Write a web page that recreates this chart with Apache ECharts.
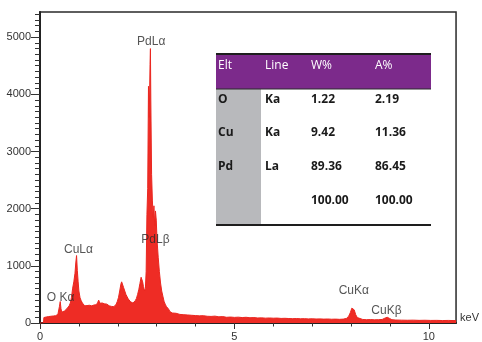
<!DOCTYPE html>
<html>
<head>
<meta charset="utf-8">
<script src="https://cdn.jsdelivr.net/npm/echarts@6/dist/echarts.min.js"></script>
<style>
html,body{margin:0;padding:0;background:#fff;}
#chart{width:482px;height:342px;}
</style>
</head>
<body>
<div id="chart"></div>
<script>
// Spectrum energies (keV) and counts
const energyKeV = [
  0.00,0.09,0.10,0.13,0.16,0.19,0.22,0.25,0.28,0.31,0.34,0.37,0.40,0.43,0.46,0.48,0.50,0.52,0.54,0.56,
  0.58,0.60,0.63,0.66,0.69,0.72,0.75,0.78,0.81,0.84,0.87,0.90,0.92,0.94,0.96,0.98,1.00,1.03,1.06,1.09,
  1.12,1.15,1.18,1.21,1.24,1.27,1.30,1.33,1.36,1.39,1.42,1.45,1.48,1.51,1.54,1.57,1.60,1.63,1.66,1.69,
  1.72,1.75,1.78,1.81,1.84,1.87,1.90,1.93,1.96,1.99,2.02,2.05,2.08,2.10,2.12,2.15,2.18,2.21,2.24,2.27,
  2.30,2.33,2.36,2.39,2.42,2.45,2.48,2.51,2.54,2.57,2.60,2.62,2.64,2.66,2.69,2.71,2.73,2.75,2.77,2.79,
  2.81,2.83,2.84,2.85,2.87,2.89,2.91,2.93,2.95,2.97,2.99,3.01,3.04,3.07,3.10,3.13,3.16,3.19,3.22,3.25,
  3.28,3.31,3.34,3.37,3.40,3.45,3.50,3.55,3.60,3.65,3.70,3.75,3.80,3.85,3.90,3.95,4.00,4.10,4.20,4.30,
  4.40,4.50,4.60,4.70,4.80,4.90,5.00,5.10,5.20,5.30,5.40,5.50,5.60,5.70,5.80,5.90,6.00,6.10,6.20,6.30,
  6.40,6.50,6.60,6.70,6.80,6.90,7.00,7.10,7.20,7.30,7.40,7.50,7.60,7.70,7.80,7.88,7.94,7.98,8.02,8.05,
  8.08,8.12,8.16,8.20,8.30,8.40,8.50,8.60,8.70,8.80,8.87,8.93,8.99,9.05,9.15,9.30,9.45,9.60,9.75,9.90,
  10.05,10.20,10.35,10.50,10.70
];
const counts = [
  0,0,95,110,105,115,112,120,118,125,122,130,128,140,150,175,290,375,250,190,
  170,195,210,230,250,280,300,350,450,610,720,870,1050,1180,920,730,560,440,390,350,
  330,300,320,305,330,310,325,300,330,315,340,320,355,400,345,330,350,320,335,315,
  330,305,300,285,290,275,285,300,330,380,450,560,680,720,700,620,560,500,460,420,
  390,370,355,350,360,390,430,500,580,690,800,830,720,640,560,600,900,1900,2350,4140,
  3600,4520,4800,3900,2600,2150,1850,2050,1700,1960,1800,1450,1150,900,700,560,470,380,330,290,
  260,240,200,180,175,185,170,180,150,160,145,150,140,145,135,140,130,125,128,118,
  115,120,108,112,100,104,98,102,95,100,92,95,88,90,85,88,84,86,80,82,
  78,76,78,74,76,72,74,70,72,68,70,66,68,64,68,80,120,180,260,290,
  230,145,95,75,62,58,60,56,58,62,85,100,80,58,52,50,48,50,46,48,
  45,46,43,45,42
];
// Peak annotations
const peakNames = ['PdLα','PdLβ','CuLα','O Kα','CuKα','CuKβ'];
const peakLabelKeV = [2.86, 2.97, 0.99, 0.53, 8.07, 8.91];
const peakLabelCounts = [4920, 1460, 1290, 450, 557, 209];
// Axis ticks
const xLabelValues = [0, 5, 10];
const xMinorTicks = [0,1,2,3,4,5,6,7,8,9,10];
const yLabelValues = [0, 1000, 2000, 3000, 4000, 5000];
const yMinorTicks = [];
for (let v = 0; v <= 5400; v += 100) yMinorTicks.push(v);
// Quantification table
const tableHeader = ['Elt', 'Line', 'W%', 'A%'];
const tableRows = [
  ['O', 'Ka', '1.22', '2.19'],
  ['Cu', 'Ka', '9.42', '11.36'],
  ['Pd', 'La', '89.36', '86.45'],
  ['', '', '100.00', '100.00']
];

const X_MAX = 10.7, Y_MAX = 5440;
const spectrum = energyKeV.map((e, i) => [e, counts[i]]);
const labelData = peakNames.map((n, i) => ({ name: n, value: [peakLabelKeV[i], peakLabelCounts[i]] }));

// table graphics
const colX = [218, 265, 311, 375];
const rowY = [100, 133, 167, 201];
const tX = 216, tW = 215;
const graphics = [
  { type: 'rect', shape: { x: tX, y: 54, width: tW, height: 35 }, style: { fill: '#7c2a8b' }, z: 10 },
  { type: 'rect', shape: { x: tX, y: 89, width: tW, height: 136 }, style: { fill: '#ffffff' }, z: 10 },
  { type: 'rect', shape: { x: tX, y: 89, width: 45, height: 136 }, style: { fill: '#b8b9bc' }, z: 11 },
  { type: 'line', shape: { x1: tX, y1: 54, x2: tX + tW, y2: 54 }, style: { stroke: '#1e1e1e', lineWidth: 2 }, z: 12 },
  { type: 'line', shape: { x1: tX, y1: 89, x2: tX + tW, y2: 89 }, style: { stroke: '#2a2a2a', lineWidth: 1 }, z: 12 },
  { type: 'line', shape: { x1: tX, y1: 225, x2: tX + tW, y2: 225 }, style: { stroke: '#1e1e1e', lineWidth: 2 }, z: 12 }
];
tableHeader.forEach((h, j) => {
  graphics.push({ type: 'text', x: colX[j], y: 66, z: 13,
    style: { text: h, fill: '#ffffff', font: '12px "Open Sans"', textVerticalAlign: 'middle' } });
});
tableRows.forEach((row, i) => {
  row.forEach((c, j) => {
    if (!c) return;
    graphics.push({ type: 'text', x: colX[j], y: rowY[i], z: 13,
      style: { text: c, fill: '#1a1a1a', font: 'bold 12px "Open Sans"', textVerticalAlign: 'middle' } });
  });
});

const chart = echarts.init(document.getElementById('chart'), null, { renderer: 'canvas' });
const axisFont = { fontFamily: 'Liberation Sans', fontSize: 11, color: '#333' };
const plain = v => String(v);
chart.setOption({
  animation: false,
  backgroundColor: '#ffffff',
  grid: { left: 40, right: 20, top: 12, bottom: 17, show: true, borderColor: '#2a2a2a', borderWidth: 1.5, backgroundColor: 'transparent' },
  xAxis: [
    { type: 'value', min: 0, max: X_MAX, interval: 5, position: 'bottom',
      name: 'keV', nameLocation: 'end', nameGap: 4,
      nameTextStyle: { fontFamily: 'Liberation Sans', fontSize: 11, color: '#333', verticalAlign: 'bottom' },
      axisLine: { show: true, lineStyle: { color: '#222', width: 2 } },
      axisTick: { show: true, length: 6, customValues: xLabelValues, lineStyle: { color: '#333', width: 1 } },
      axisLabel: Object.assign({ margin: 8, customValues: xLabelValues, formatter: plain }, axisFont),
      splitLine: { show: false } },
    { type: 'value', min: 0, max: X_MAX, position: 'bottom',
      axisLine: { show: false },
      axisTick: { show: true, length: 3.5, customValues: xMinorTicks, lineStyle: { color: '#333', width: 1 } },
      axisLabel: { show: false },
      splitLine: { show: false } }
  ],
  yAxis: [
    { type: 'value', min: 0, max: Y_MAX, interval: 1000, position: 'left',
      axisLine: { show: true, lineStyle: { color: '#222', width: 2 } },
      axisTick: { show: true, length: 9, customValues: yLabelValues, lineStyle: { color: '#333', width: 1 } },
      axisLabel: Object.assign({ margin: 9, customValues: yLabelValues, formatter: plain }, axisFont),
      splitLine: { show: false } },
    { type: 'value', min: 0, max: Y_MAX, position: 'left',
      axisLine: { show: false },
      axisTick: { show: true, length: 5, customValues: yMinorTicks, lineStyle: { color: '#333', width: 1 } },
      axisLabel: { show: false },
      splitLine: { show: false } }
  ],
  series: [
    { type: 'line', xAxisIndex: 0, yAxisIndex: 0, data: spectrum, symbol: 'none', smooth: false,
      lineStyle: { color: '#ea2720', width: 1 },
      areaStyle: { color: '#ee2c25', opacity: 1 }, z: 2 },
    { type: 'scatter', xAxisIndex: 0, yAxisIndex: 0, data: labelData, symbolSize: 1,
      itemStyle: { color: 'rgba(0,0,0,0)' },
      label: { show: true, position: 'inside', formatter: '{b}', color: '#2a2a2a',
        fontFamily: 'Liberation Sans', fontSize: 12 }, z: 5 }
  ],
  graphic: graphics
});
</script>
</body>
</html>
